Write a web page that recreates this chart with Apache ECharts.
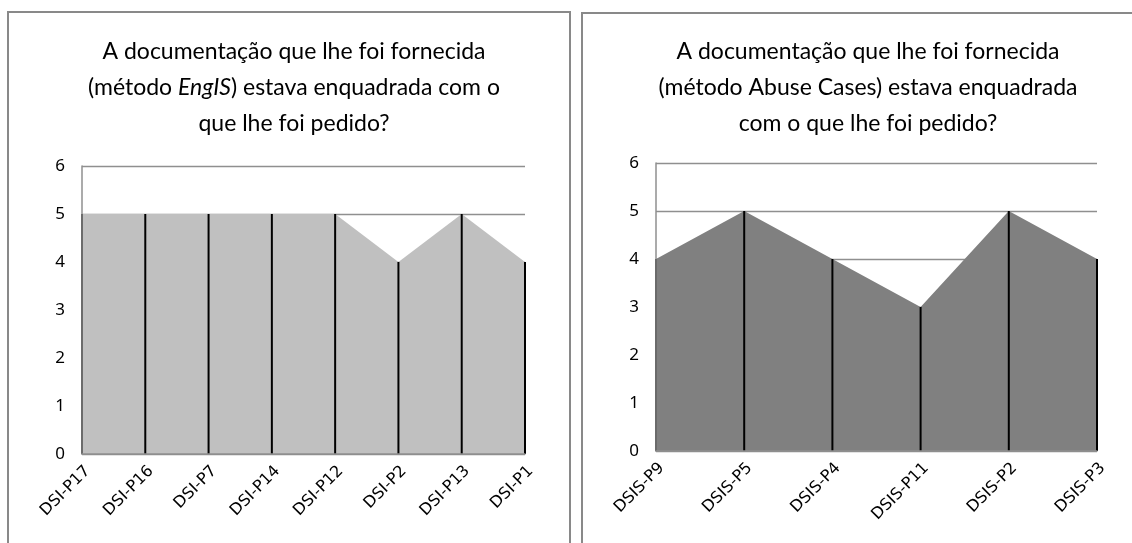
<!DOCTYPE html>
<html>
<head>
<meta charset="utf-8">
<script src="https://cdn.jsdelivr.net/npm/echarts@6/dist/echarts.min.js"></script>
<style>
  html, body { margin: 0; padding: 0; background: #fff; }
  #chart { width: 1132px; height: 543px; }
</style>
</head>
<body>
<div id="chart"></div>
<script>
// Respondents and their ratings (scale 0–6)
const engisCategories = ['DSI-P17', 'DSI-P16', 'DSI-P7', 'DSI-P14', 'DSI-P12', 'DSI-P2', 'DSI-P13', 'DSI-P1'];
const engisValues = [5, 5, 5, 5, 5, 4, 5, 4];

const abuseCategories = ['DSIS-P9', 'DSIS-P5', 'DSIS-P4', 'DSIS-P11', 'DSIS-P2', 'DSIS-P3'];
const abuseValues = [4, 5, 4, 3, 5, 4];

const yTicks = { min: 0, max: 6, interval: 1 };

const GRID_COLOR = '#8f8f8f';
const LABEL_FONT = 'Noto Sans';
const TITLE_FONT = 'Lato';

const chart = echarts.init(document.getElementById('chart'), null, { renderer: 'canvas' });

function xAxisFor(gridIndex, cats) {
  return {
    type: 'category',
    gridIndex,
    data: cats,
    boundaryGap: false,
    axisLine: { show: true, lineStyle: { color: GRID_COLOR, width: 1.5 } },
    axisTick: { show: false },
    axisLabel: {
      rotate: 45,
      interval: 0,
      margin: 9,
      verticalAlign: 'top',
      color: '#000',
      fontFamily: 'DejaVu Sans',
      fontSize: 16
    },
    z: 10
  };
}

// value axis carrying the labels and the horizontal gridlines (behind the area)
function yAxisFor(gridIndex) {
  return {
    type: 'value',
    gridIndex,
    min: yTicks.min,
    max: yTicks.max,
    interval: yTicks.interval,
    axisLine: { show: false },
    axisTick: { show: false },
    splitLine: { show: true, lineStyle: { color: GRID_COLOR, width: 1.3 } },
    axisLabel: { color: '#000', fontFamily: LABEL_FONT, fontSize: 17, margin: 17 },
    z: 0
  };
}

// twin value axis that only draws the vertical axis line, above the series
function yAxisLineFor(gridIndex) {
  return {
    type: 'value',
    gridIndex,
    position: 'left',
    min: yTicks.min,
    max: yTicks.max,
    interval: yTicks.interval,
    axisLine: { show: true, onZero: false, lineStyle: { color: GRID_COLOR, width: 1.5 } },
    axisTick: { show: false },
    splitLine: { show: false },
    axisLabel: { show: false },
    z: 10
  };
}

function areaSeries(idx, values, color) {
  return {
    type: 'line',
    xAxisIndex: idx,
    yAxisIndex: idx,
    data: values,
    symbol: 'none',
    lineStyle: { width: 0 },
    areaStyle: { color: color, opacity: 1 },
    silent: true,
    z: 2
  };
}

// drop lines: a thin black bar from each point down to the axis
function dropSeries(idx, values) {
  return {
    type: 'bar',
    xAxisIndex: idx,
    yAxisIndex: idx,
    data: values,
    barWidth: 2,
    itemStyle: { color: '#000' },
    silent: true,
    z: 3
  };
}

const titleStyle = {
  fontFamily: TITLE_FONT,
  fontSize: 23,
  fontWeight: 'normal',
  color: '#000',
  lineHeight: 36,
  rich: {
    i: { fontFamily: TITLE_FONT, fontSize: 23, fontStyle: 'italic', color: '#000', lineHeight: 36 }
  }
};

chart.setOption({
  animation: false,
  backgroundColor: '#fff',
  title: [
    {
      text: 'A documentação que lhe foi fornecida\n(método {i|EngIS}) estava enquadrada com o\nque lhe foi pedido?',
      left: 289,
      top: 29,
      textAlign: 'center',
      textStyle: titleStyle
    },
    {
      text: 'A documentação que lhe foi fornecida\n(método Abuse Cases) estava enquadrada\ncom o que lhe foi pedido?',
      left: 863,
      top: 29,
      textAlign: 'center',
      textStyle: titleStyle
    }
  ],
  grid: [
    { left: 82, top: 166, width: 443, height: 288 },
    { left: 656, top: 163, width: 441, height: 288 }
  ],
  xAxis: [xAxisFor(0, engisCategories), xAxisFor(1, abuseCategories)],
  yAxis: [yAxisFor(0), yAxisFor(1), yAxisLineFor(0), yAxisLineFor(1)],
  series: [
    areaSeries(0, engisValues, '#c0c0c0'),
    dropSeries(0, engisValues),
    areaSeries(1, abuseValues, '#808080'),
    dropSeries(1, abuseValues)
  ],
  graphic: [
    {
      type: 'rect',
      shape: { x: 8, y: 12, width: 562, height: 600 },
      style: { fill: 'none', stroke: '#898989', lineWidth: 2 },
      silent: true
    },
    {
      type: 'rect',
      shape: { x: 582, y: 13, width: 600, height: 600 },
      style: { fill: 'none', stroke: '#898989', lineWidth: 2 },
      silent: true
    }
  ]
});
</script>
</body>
</html>
